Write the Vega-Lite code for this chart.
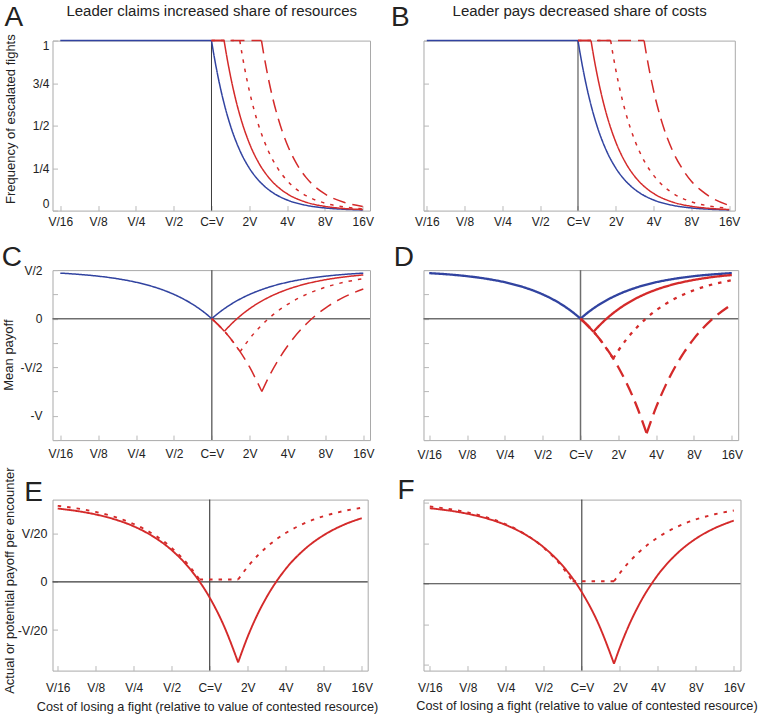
{
  "$schema": "https://vega.github.io/schema/vega-lite/v6.json",
  "padding": {"left": 0.5, "top": 2.6, "right": 0, "bottom": 0},
  "config": {
    "font": "Liberation Sans",
    "view": {"stroke": "#a9a9a9", "strokeWidth": 1},
    "axis": {"grid": false, "domain": false, "labelFont": "Liberation Sans", "titleFont": "Liberation Sans", "labelColor": "#222222", "titleColor": "#222222", "titleFontWeight": "normal", "tickColor": "#b8b8b8", "tickSize": -5, "labelFontSize": 12, "labelFlush": false, "labelOverlap": false, "labelBound": false}
  },
  "columns": 2,
  "spacing": {"row": 59.5, "column": 53},
  "bounds": "flush",
  "align": "each",
  "datasets": {
    "A": [
      {"s":"blue","g":"b1","c":0.0625,"y":1},{"s":"blue","g":"b1","c":1,"y":1},
      {"s":"blue","g":"b2","c":1,"y":1},{"s":"blue","g":"b2","c":1.0443,"y":0.917},{"s":"blue","g":"b2","c":1.0905,"y":0.8409},{"s":"blue","g":"b2","c":1.1892,"y":0.7071},{"s":"blue","g":"b2","c":1.2968,"y":0.5946},{"s":"blue","g":"b2","c":1.4142,"y":0.5},{"s":"blue","g":"b2","c":1.6818,"y":0.3536},{"s":"blue","g":"b2","c":2,"y":0.25},{"s":"blue","g":"b2","c":2.3784,"y":0.1768},{"s":"blue","g":"b2","c":2.8284,"y":0.125},{"s":"blue","g":"b2","c":3.3636,"y":0.0884},{"s":"blue","g":"b2","c":4,"y":0.0625},{"s":"blue","g":"b2","c":5.6569,"y":0.0313},{"s":"blue","g":"b2","c":8,"y":0.0156},{"s":"blue","g":"b2","c":11.3137,"y":0.0078},{"s":"blue","g":"b2","c":16,"y":0.0039},
      {"s":"solid","g":"s1","c":1,"y":1},{"s":"solid","g":"s1","c":1.26,"y":1},
      {"s":"solid","g":"s2","c":1.26,"y":1},{"s":"solid","g":"s2","c":1.3195,"y":0.912},{"s":"solid","g":"s2","c":1.4142,"y":0.794},{"s":"solid","g":"s2","c":1.5422,"y":0.6675},{"s":"solid","g":"s2","c":1.6818,"y":0.5613},{"s":"solid","g":"s2","c":2,"y":0.3969},{"s":"solid","g":"s2","c":2.3784,"y":0.2806},{"s":"solid","g":"s2","c":2.8284,"y":0.1985},{"s":"solid","g":"s2","c":3.3636,"y":0.1403},{"s":"solid","g":"s2","c":4,"y":0.0992},{"s":"solid","g":"s2","c":5.6569,"y":0.0496},{"s":"solid","g":"s2","c":8,"y":0.0248},{"s":"solid","g":"s2","c":11.3137,"y":0.0124},{"s":"solid","g":"s2","c":16,"y":0.0062},
      {"s":"dotted","g":"d1","c":1,"y":1},{"s":"dotted","g":"d1","c":1.68,"y":1},
      {"s":"dotted","g":"d2","c":1.68,"y":1},{"s":"dotted","g":"d2","c":1.7563,"y":0.915},{"s":"dotted","g":"d2","c":1.834,"y":0.8391},{"s":"dotted","g":"d2","c":2,"y":0.7056},{"s":"dotted","g":"d2","c":2.181,"y":0.5933},{"s":"dotted","g":"d2","c":2.3784,"y":0.4989},{"s":"dotted","g":"d2","c":2.8284,"y":0.3528},{"s":"dotted","g":"d2","c":3.3636,"y":0.2495},{"s":"dotted","g":"d2","c":4,"y":0.1764},{"s":"dotted","g":"d2","c":4.7568,"y":0.1247},{"s":"dotted","g":"d2","c":5.6569,"y":0.0882},{"s":"dotted","g":"d2","c":8,"y":0.0441},{"s":"dotted","g":"d2","c":11.3137,"y":0.0221},{"s":"dotted","g":"d2","c":16,"y":0.011},
      {"s":"dashed","g":"D1","c":1,"y":1},{"s":"dashed","g":"D1","c":2.5,"y":1},
      {"s":"dashed","g":"D2","c":2.5,"y":1},{"s":"dashed","g":"D2","c":2.5937,"y":0.9291},{"s":"dashed","g":"D2","c":2.8284,"y":0.7813},{"s":"dashed","g":"D2","c":3.0844,"y":0.657},{"s":"dashed","g":"D2","c":3.3636,"y":0.5524},{"s":"dashed","g":"D2","c":4,"y":0.3906},{"s":"dashed","g":"D2","c":4.7568,"y":0.2762},{"s":"dashed","g":"D2","c":5.6569,"y":0.1953},{"s":"dashed","g":"D2","c":6.7272,"y":0.1381},{"s":"dashed","g":"D2","c":8,"y":0.0977},{"s":"dashed","g":"D2","c":11.3137,"y":0.0488},{"s":"dashed","g":"D2","c":16,"y":0.0244}
    ],
    "B": [
      {"s":"blue","g":"b1","c":0.0625,"y":1},{"s":"blue","g":"b1","c":1,"y":1},
      {"s":"blue","g":"b2","c":1,"y":1},{"s":"blue","g":"b2","c":1.0443,"y":0.917},{"s":"blue","g":"b2","c":1.0905,"y":0.8409},{"s":"blue","g":"b2","c":1.1892,"y":0.7071},{"s":"blue","g":"b2","c":1.2968,"y":0.5946},{"s":"blue","g":"b2","c":1.4142,"y":0.5},{"s":"blue","g":"b2","c":1.6818,"y":0.3536},{"s":"blue","g":"b2","c":2,"y":0.25},{"s":"blue","g":"b2","c":2.3784,"y":0.1768},{"s":"blue","g":"b2","c":2.8284,"y":0.125},{"s":"blue","g":"b2","c":3.3636,"y":0.0884},{"s":"blue","g":"b2","c":4,"y":0.0625},{"s":"blue","g":"b2","c":5.6569,"y":0.0313},{"s":"blue","g":"b2","c":8,"y":0.0156},{"s":"blue","g":"b2","c":11.3137,"y":0.0078},{"s":"blue","g":"b2","c":16,"y":0.0039},
      {"s":"solid","g":"s1","c":1,"y":1},{"s":"solid","g":"s1","c":1.27,"y":1},
      {"s":"solid","g":"s2","c":1.27,"y":1},{"s":"solid","g":"s2","c":1.3195,"y":0.9264},{"s":"solid","g":"s2","c":1.4142,"y":0.8065},{"s":"solid","g":"s2","c":1.5422,"y":0.6782},{"s":"solid","g":"s2","c":1.6818,"y":0.5703},{"s":"solid","g":"s2","c":2,"y":0.4032},{"s":"solid","g":"s2","c":2.3784,"y":0.2851},{"s":"solid","g":"s2","c":2.8284,"y":0.2016},{"s":"solid","g":"s2","c":3.3636,"y":0.1426},{"s":"solid","g":"s2","c":4,"y":0.1008},{"s":"solid","g":"s2","c":5.6569,"y":0.0504},{"s":"solid","g":"s2","c":8,"y":0.0252},{"s":"solid","g":"s2","c":11.3137,"y":0.0126},{"s":"solid","g":"s2","c":16,"y":0.0063},
      {"s":"dotted","g":"d1","c":1,"y":1},{"s":"dotted","g":"d1","c":1.82,"y":1},
      {"s":"dotted","g":"d2","c":1.82,"y":1},{"s":"dotted","g":"d2","c":1.9152,"y":0.9031},{"s":"dotted","g":"d2","c":2,"y":0.8281},{"s":"dotted","g":"d2","c":2.181,"y":0.6963},{"s":"dotted","g":"d2","c":2.3784,"y":0.5856},{"s":"dotted","g":"d2","c":2.5937,"y":0.4924},{"s":"dotted","g":"d2","c":2.8284,"y":0.4141},{"s":"dotted","g":"d2","c":3.3636,"y":0.2928},{"s":"dotted","g":"d2","c":4,"y":0.207},{"s":"dotted","g":"d2","c":4.7568,"y":0.1464},{"s":"dotted","g":"d2","c":5.6569,"y":0.1035},{"s":"dotted","g":"d2","c":8,"y":0.0518},{"s":"dotted","g":"d2","c":11.3137,"y":0.0259},{"s":"dotted","g":"d2","c":16,"y":0.0129},
      {"s":"dashed","g":"D1","c":1,"y":1},{"s":"dashed","g":"D1","c":3.36,"y":1},
      {"s":"dashed","g":"D2","c":3.36,"y":1},{"s":"dashed","g":"D2","c":3.5124,"y":0.915},{"s":"dashed","g":"D2","c":3.668,"y":0.8391},{"s":"dashed","g":"D2","c":4,"y":0.7056},{"s":"dashed","g":"D2","c":4.362,"y":0.5933},{"s":"dashed","g":"D2","c":4.7568,"y":0.4989},{"s":"dashed","g":"D2","c":5.6569,"y":0.3528},{"s":"dashed","g":"D2","c":6.7272,"y":0.2495},{"s":"dashed","g":"D2","c":8,"y":0.172},{"s":"dashed","g":"D2","c":9.5137,"y":0.12},{"s":"dashed","g":"D2","c":11.3137,"y":0.08},{"s":"dashed","g":"D2","c":16,"y":0.03}
    ],
    "C": [
      {"s":"blue","g":"b1","c":0.0625,"y":0.4688},{"s":"blue","g":"b1","c":0.0884,"y":0.4558},{"s":"blue","g":"b1","c":0.125,"y":0.4375},{"s":"blue","g":"b1","c":0.1768,"y":0.4116},{"s":"blue","g":"b1","c":0.25,"y":0.375},{"s":"blue","g":"b1","c":0.3536,"y":0.3232},{"s":"blue","g":"b1","c":0.5,"y":0.25},{"s":"blue","g":"b1","c":0.5946,"y":0.2027},{"s":"blue","g":"b1","c":0.7071,"y":0.1464},{"s":"blue","g":"b1","c":0.8409,"y":0.0796},{"s":"blue","g":"b1","c":0.917,"y":0.0415},{"s":"blue","g":"b1","c":1,"y":0},
      {"s":"blue","g":"b2","c":1,"y":0},{"s":"blue","g":"b2","c":1.0905,"y":0.0415},{"s":"blue","g":"b2","c":1.1892,"y":0.0796},{"s":"blue","g":"b2","c":1.4142,"y":0.1464},{"s":"blue","g":"b2","c":1.6818,"y":0.2027},{"s":"blue","g":"b2","c":2,"y":0.25},{"s":"blue","g":"b2","c":2.8284,"y":0.3232},{"s":"blue","g":"b2","c":4,"y":0.375},{"s":"blue","g":"b2","c":5.6569,"y":0.4116},{"s":"blue","g":"b2","c":8,"y":0.4375},{"s":"blue","g":"b2","c":11.3137,"y":0.4558},{"s":"blue","g":"b2","c":16,"y":0.4688},
      {"s":"solid","g":"s1","c":1,"y":0},{"s":"solid","g":"s1","c":1.1225,"y":-0.0612},{"s":"solid","g":"s1","c":1.26,"y":-0.13},
      {"s":"solid","g":"s2","c":1.26,"y":-0.13},{"s":"solid","g":"s2","c":1.4142,"y":-0.0613},{"s":"solid","g":"s2","c":1.6818,"y":0.028},{"s":"solid","g":"s2","c":2,"y":0.1031},{"s":"solid","g":"s2","c":2.8284,"y":0.2194},{"s":"solid","g":"s2","c":4,"y":0.3016},{"s":"solid","g":"s2","c":5.6569,"y":0.3597},{"s":"solid","g":"s2","c":8,"y":0.4008},{"s":"solid","g":"s2","c":11.3137,"y":0.4298},{"s":"solid","g":"s2","c":16,"y":0.4504},
      {"s":"dotted","g":"d1","c":1,"y":0},{"s":"dotted","g":"d1","c":1.2961,"y":-0.148},{"s":"dotted","g":"d1","c":1.68,"y":-0.34},
      {"s":"dotted","g":"d2","c":1.68,"y":-0.34},{"s":"dotted","g":"d2","c":1.834,"y":-0.2695},{"s":"dotted","g":"d2","c":2,"y":-0.2056},{"s":"dotted","g":"d2","c":2.3784,"y":-0.0933},{"s":"dotted","g":"d2","c":2.8284,"y":0.0011},{"s":"dotted","g":"d2","c":3.3636,"y":0.0805},{"s":"dotted","g":"d2","c":4,"y":0.1472},{"s":"dotted","g":"d2","c":5.6569,"y":0.2505},{"s":"dotted","g":"d2","c":8,"y":0.3236},{"s":"dotted","g":"d2","c":11.3137,"y":0.3753},{"s":"dotted","g":"d2","c":16,"y":0.4118},
      {"s":"dashed","g":"D1","c":1,"y":0},{"s":"dashed","g":"D1","c":1.4142,"y":-0.2071},{"s":"dashed","g":"D1","c":2,"y":-0.5},{"s":"dashed","g":"D1","c":2.5,"y":-0.75},
      {"s":"dashed","g":"D2","c":2.5,"y":-0.75},{"s":"dashed","g":"D2","c":2.8284,"y":-0.6049},{"s":"dashed","g":"D2","c":3.3636,"y":-0.4291},{"s":"dashed","g":"D2","c":4,"y":-0.2813},{"s":"dashed","g":"D2","c":5.6569,"y":-0.0524},{"s":"dashed","g":"D2","c":8,"y":0.1094},{"s":"dashed","g":"D2","c":11.3137,"y":0.2238},{"s":"dashed","g":"D2","c":16,"y":0.3047}
    ],
    "D": [
      {"s":"blue","g":"b1","c":0.0625,"y":0.4688},{"s":"blue","g":"b1","c":0.0884,"y":0.4558},{"s":"blue","g":"b1","c":0.125,"y":0.4375},{"s":"blue","g":"b1","c":0.1768,"y":0.4116},{"s":"blue","g":"b1","c":0.25,"y":0.375},{"s":"blue","g":"b1","c":0.3536,"y":0.3232},{"s":"blue","g":"b1","c":0.5,"y":0.25},{"s":"blue","g":"b1","c":0.5946,"y":0.2027},{"s":"blue","g":"b1","c":0.7071,"y":0.1464},{"s":"blue","g":"b1","c":0.8409,"y":0.0796},{"s":"blue","g":"b1","c":0.917,"y":0.0415},{"s":"blue","g":"b1","c":1,"y":0},
      {"s":"blue","g":"b2","c":1,"y":0},{"s":"blue","g":"b2","c":1.0905,"y":0.0415},{"s":"blue","g":"b2","c":1.1892,"y":0.0796},{"s":"blue","g":"b2","c":1.4142,"y":0.1464},{"s":"blue","g":"b2","c":1.6818,"y":0.2027},{"s":"blue","g":"b2","c":2,"y":0.25},{"s":"blue","g":"b2","c":2.8284,"y":0.3232},{"s":"blue","g":"b2","c":4,"y":0.375},{"s":"blue","g":"b2","c":5.6569,"y":0.4116},{"s":"blue","g":"b2","c":8,"y":0.4375},{"s":"blue","g":"b2","c":11.3137,"y":0.4558},{"s":"blue","g":"b2","c":16,"y":0.4688},
      {"s":"solid","g":"s1","c":1,"y":0},{"s":"solid","g":"s1","c":1.127,"y":-0.0635},{"s":"solid","g":"s1","c":1.27,"y":-0.135},
      {"s":"solid","g":"s2","c":1.27,"y":-0.135},{"s":"solid","g":"s2","c":1.4142,"y":-0.0703},{"s":"solid","g":"s2","c":1.6818,"y":0.0205},{"s":"solid","g":"s2","c":2,"y":0.0968},{"s":"solid","g":"s2","c":2.8284,"y":0.2149},{"s":"solid","g":"s2","c":4,"y":0.2984},{"s":"solid","g":"s2","c":5.6569,"y":0.3574},{"s":"solid","g":"s2","c":8,"y":0.3992},{"s":"solid","g":"s2","c":11.3137,"y":0.4287},{"s":"solid","g":"s2","c":16,"y":0.4496},
      {"s":"dotted","g":"d1","c":1,"y":0},{"s":"dotted","g":"d1","c":1.3491,"y":-0.1746},{"s":"dotted","g":"d1","c":1.82,"y":-0.41},
      {"s":"dotted","g":"d2","c":1.82,"y":-0.41},{"s":"dotted","g":"d2","c":2,"y":-0.3281},{"s":"dotted","g":"d2","c":2.3784,"y":-0.1963},{"s":"dotted","g":"d2","c":2.8284,"y":-0.0856},{"s":"dotted","g":"d2","c":3.3636,"y":0.0076},{"s":"dotted","g":"d2","c":4,"y":0.0859},{"s":"dotted","g":"d2","c":5.6569,"y":0.2072},{"s":"dotted","g":"d2","c":8,"y":0.293},{"s":"dotted","g":"d2","c":11.3137,"y":0.3536},{"s":"dotted","g":"d2","c":16,"y":0.3965},
      {"s":"dashed","g":"D1","c":1,"y":0},{"s":"dashed","g":"D1","c":1.4142,"y":-0.2071},{"s":"dashed","g":"D1","c":2,"y":-0.5},{"s":"dashed","g":"D1","c":2.8284,"y":-0.9142},{"s":"dashed","g":"D1","c":3.36,"y":-1.18},
      {"s":"dashed","g":"D2","c":3.36,"y":-1.18},{"s":"dashed","g":"D2","c":4,"y":-0.9112},{"s":"dashed","g":"D2","c":4.7568,"y":-0.6867},{"s":"dashed","g":"D2","c":5.6569,"y":-0.4979},{"s":"dashed","g":"D2","c":6.7272,"y":-0.3391},{"s":"dashed","g":"D2","c":8,"y":-0.2056},{"s":"dashed","g":"D2","c":11.3137,"y":0.0011},{"s":"dashed","g":"D2","c":16,"y":0.1472}
    ],
    "E": [
      {"s":"solid","g":"s1","c":0.0625,"y":0.076},{"s":"solid","g":"s1","c":0.0884,"y":0.0735},{"s":"solid","g":"s1","c":0.125,"y":0.0699},{"s":"solid","g":"s1","c":0.1768,"y":0.0648},{"s":"solid","g":"s1","c":0.25,"y":0.0576},{"s":"solid","g":"s1","c":0.3536,"y":0.0473},{"s":"solid","g":"s1","c":0.5,"y":0.0329},{"s":"solid","g":"s1","c":0.7071,"y":0.0125},{"s":"solid","g":"s1","c":1,"y":-0.0164},{"s":"solid","g":"s1","c":1.2968,"y":-0.0457},{"s":"solid","g":"s1","c":1.68,"y":-0.0835},
      {"s":"solid","g":"s2","c":1.68,"y":-0.0835},{"s":"solid","g":"s2","c":2,"y":-0.0568},{"s":"solid","g":"s2","c":2.3784,"y":-0.0344},{"s":"solid","g":"s2","c":2.8284,"y":-0.0157},{"s":"solid","g":"s2","c":4,"y":0.0134},{"s":"solid","g":"s2","c":5.6569,"y":0.0339},{"s":"solid","g":"s2","c":8,"y":0.0484},{"s":"solid","g":"s2","c":11.3137,"y":0.0587},{"s":"solid","g":"s2","c":16,"y":0.066},
      {"s":"dotted","g":"d1","c":0.0625,"y":0.0788},{"s":"dotted","g":"d1","c":0.0884,"y":0.0762},{"s":"dotted","g":"d1","c":0.125,"y":0.0725},{"s":"dotted","g":"d1","c":0.1768,"y":0.0673},{"s":"dotted","g":"d1","c":0.25,"y":0.06},{"s":"dotted","g":"d1","c":0.3536,"y":0.0497},{"s":"dotted","g":"d1","c":0.5,"y":0.0352},{"s":"dotted","g":"d1","c":0.7071,"y":0.0146},{"s":"dotted","g":"d1","c":0.831,"y":0.0024},
      {"s":"dotted","g":"d2","c":0.831,"y":0.0024},{"s":"dotted","g":"d2","c":1.68,"y":0.0024},
      {"s":"dotted","g":"d3","c":1.68,"y":0.0024},{"s":"dotted","g":"d3","c":2,"y":0.0157},{"s":"dotted","g":"d3","c":2.3784,"y":0.0268},{"s":"dotted","g":"d3","c":2.8284,"y":0.0361},{"s":"dotted","g":"d3","c":4,"y":0.0506},{"s":"dotted","g":"d3","c":5.6569,"y":0.0608},{"s":"dotted","g":"d3","c":8,"y":0.0681},{"s":"dotted","g":"d3","c":11.3137,"y":0.0732},{"s":"dotted","g":"d3","c":16,"y":0.0768}
    ],
    "F": [
      {"s":"solid","g":"s1","c":0.0625,"y":0.0933},{"s":"solid","g":"s1","c":0.0884,"y":0.0905},{"s":"solid","g":"s1","c":0.125,"y":0.0864},{"s":"solid","g":"s1","c":0.1768,"y":0.0807},{"s":"solid","g":"s1","c":0.25,"y":0.0726},{"s":"solid","g":"s1","c":0.3536,"y":0.0611},{"s":"solid","g":"s1","c":0.5,"y":0.0449},{"s":"solid","g":"s1","c":0.7071,"y":0.022},{"s":"solid","g":"s1","c":1,"y":-0.0105},{"s":"solid","g":"s1","c":1.3416,"y":-0.0482},{"s":"solid","g":"s1","c":1.8,"y":-0.099},
      {"s":"solid","g":"s2","c":1.8,"y":-0.099},{"s":"solid","g":"s2","c":2,"y":-0.0791},{"s":"solid","g":"s2","c":2.3784,"y":-0.0505},{"s":"solid","g":"s2","c":2.8284,"y":-0.0265},{"s":"solid","g":"s2","c":4,"y":0.0107},{"s":"solid","g":"s2","c":5.6569,"y":0.037},{"s":"solid","g":"s2","c":8,"y":0.0556},{"s":"solid","g":"s2","c":11.3137,"y":0.0687},{"s":"solid","g":"s2","c":16,"y":0.078},
      {"s":"dotted","g":"d1","c":0.0625,"y":0.0955},{"s":"dotted","g":"d1","c":0.0884,"y":0.0924},{"s":"dotted","g":"d1","c":0.125,"y":0.0881},{"s":"dotted","g":"d1","c":0.1768,"y":0.082},{"s":"dotted","g":"d1","c":0.25,"y":0.0735},{"s":"dotted","g":"d1","c":0.3536,"y":0.0615},{"s":"dotted","g":"d1","c":0.5,"y":0.0445},{"s":"dotted","g":"d1","c":0.7071,"y":0.0197},{"s":"dotted","g":"d1","c":0.845,"y":0.003},
      {"s":"dotted","g":"d2","c":0.845,"y":0.003},{"s":"dotted","g":"d2","c":1.8,"y":0.003},
      {"s":"dotted","g":"d3","c":1.8,"y":0.003},{"s":"dotted","g":"d3","c":2,"y":0.0129},{"s":"dotted","g":"d3","c":2.3784,"y":0.027},{"s":"dotted","g":"d3","c":2.8284,"y":0.0388},{"s":"dotted","g":"d3","c":4,"y":0.0572},{"s":"dotted","g":"d3","c":5.6569,"y":0.0702},{"s":"dotted","g":"d3","c":8,"y":0.0794},{"s":"dotted","g":"d3","c":11.3137,"y":0.0859},{"s":"dotted","g":"d3","c":16,"y":0.0905}
    ]
  },
  "concat": [
    {
      "width": 317.5, "height": 170,
      "layer": [
        {"data": {"values": [{}]}, "mark": {"type": "rule", "color": "#3c3c3c", "strokeWidth": 1},
         "encoding": {"x": {"datum": 1, "type": "quantitative", "scale": {"type": "log", "base": 2, "domain": [0.05418, 18.29], "nice": false}, "axis": null}}},
        {"data": {"name": "A"}, "mark": {"type": "line", "interpolate": "monotone", "strokeWidth": 1.5},
         "encoding": {
           "x": {"field": "c", "type": "quantitative", "scale": {"type": "log", "base": 2, "domain": [0.05418, 18.29], "nice": false},
             "axis": {"values": [0.0625,0.125,0.25,0.5,1,2,4,8,16], "labelExpr": "datum.value < 0.1 ? 'V/16' : datum.value < 0.2 ? 'V/8' : datum.value < 0.3 ? 'V/4' : datum.value < 0.6 ? 'V/2' : datum.value < 1.5 ? 'C=V' : datum.value < 3 ? '2V' : datum.value < 6 ? '4V' : datum.value < 12 ? '8V' : '16V'", "labelBaseline": "alphabetic", "labelPadding": 20, "title": null}},
           "y": {"field": "y", "type": "quantitative", "scale": {"domain": [0, 1], "nice": false, "zero": false},
             "axis": {"values": [0,0.25,0.5,0.75,1], "labelExpr": "datum.value == 0 ? '0' : datum.value == 0.25 ? '1/4' : datum.value == 0.5 ? '1/2' : datum.value == 0.75 ? '3/4' : '1'", "labelPadding": 8.5, "labelFlush": true, "title": "Frequency of escalated fights", "titleFontSize": 13, "titleX": -38, "titleY": 78, "titleBaseline": "alphabetic", "titleAlign": "center"}},
           "color": {"field": "s", "type": "nominal", "scale": {"domain": ["dashed","dotted","solid","blue"], "range": ["#d42a2a","#d42a2a","#d42a2a","#3143a0"]}, "legend": null},
           "strokeDash": {"field": "s", "type": "nominal", "scale": {"domain": ["dashed","dotted","solid","blue"], "range": [[13,7],[3.5,6],[1,0],[1,0]]}, "legend": null},
           "detail": {"field": "g", "type": "nominal"}}},
        {"data": {"values": [{}]}, "mark": {"type": "point", "opacity": 0},
         "encoding": {
           "x": {"datum": 1, "type": "quantitative", "scale": {"type": "log", "base": 2, "domain": [0.05418, 18.29], "nice": false},
             "axis": {"orient": "top", "labels": false, "ticks": false, "title": "Leader claims increased share of resources", "titleFontSize": 15, "titleY": -25, "titleBaseline": "alphabetic"}},
           "y": {"datum": 0.5, "type": "quantitative", "scale": {"domain": [0, 1], "nice": false, "zero": false},
             "axis": {"orient": "right", "labels": false, "ticks": false, "title": "A", "titleFontSize": 28, "titleAngle": 0, "titleAlign": "left", "titleBaseline": "alphabetic", "titleX": -366, "titleY": -15}}}}
      ],
      "resolve": {"axis": {"x": "independent", "y": "independent"}}
    },
    {
      "width": 311.3, "height": 170,
      "layer": [
        {"data": {"values": [{}]}, "mark": {"type": "rule", "color": "#3c3c3c", "strokeWidth": 1},
         "encoding": {"x": {"datum": 1, "type": "quantitative", "scale": {"type": "log", "base": 2, "domain": [0.05884, 17.73], "nice": false}, "axis": null}}},
        {"data": {"name": "B"}, "mark": {"type": "line", "interpolate": "monotone", "strokeWidth": 1.5},
         "encoding": {
           "x": {"field": "c", "type": "quantitative", "scale": {"type": "log", "base": 2, "domain": [0.05884, 17.73], "nice": false},
             "axis": {"values": [0.0625,0.125,0.25,0.5,1,2,4,8,16], "labelExpr": "datum.value < 0.1 ? 'V/16' : datum.value < 0.2 ? 'V/8' : datum.value < 0.3 ? 'V/4' : datum.value < 0.6 ? 'V/2' : datum.value < 1.5 ? 'C=V' : datum.value < 3 ? '2V' : datum.value < 6 ? '4V' : datum.value < 12 ? '8V' : '16V'", "labelBaseline": "alphabetic", "labelPadding": 20, "title": null}},
           "y": {"field": "y", "type": "quantitative", "scale": {"domain": [0, 1], "nice": false, "zero": false},
             "axis": {"values": [0,0.25,0.5,0.75,1], "labels": false, "title": null}},
           "color": {"field": "s", "type": "nominal", "scale": {"domain": ["dashed","dotted","solid","blue"], "range": ["#d42a2a","#d42a2a","#d42a2a","#3143a0"]}, "legend": null},
           "strokeDash": {"field": "s", "type": "nominal", "scale": {"domain": ["dashed","dotted","solid","blue"], "range": [[13,7],[3.5,6],[1,0],[1,0]]}, "legend": null},
           "detail": {"field": "g", "type": "nominal"}}},
        {"data": {"values": [{}]}, "mark": {"type": "point", "opacity": 0},
         "encoding": {
           "x": {"datum": 1, "type": "quantitative", "scale": {"type": "log", "base": 2, "domain": [0.05884, 17.73], "nice": false},
             "axis": {"orient": "top", "labels": false, "ticks": false, "title": "Leader pays decreased share of costs", "titleFontSize": 15, "titleY": -25, "titleBaseline": "alphabetic"}},
           "y": {"datum": 0.5, "type": "quantitative", "scale": {"domain": [0, 1], "nice": false, "zero": false},
             "axis": {"orient": "right", "labels": false, "ticks": false, "title": "B", "titleFontSize": 28, "titleAngle": 0, "titleAlign": "left", "titleBaseline": "alphabetic", "titleX": -344.3, "titleY": -15}}}}
      ],
      "resolve": {"axis": {"x": "independent", "y": "independent"}}
    },
    {
      "width": 317.5, "height": 170,
      "layer": [
        {"data": {"values": [{}]}, "mark": {"type": "rule", "color": "#6e6e6e", "strokeWidth": 1.5},
         "encoding": {"x": {"datum": 1, "type": "quantitative", "scale": {"type": "log", "base": 2, "domain": [0.05418, 18.09], "nice": false}, "axis": null}}},
        {"data": {"values": [{}]}, "mark": {"type": "rule", "color": "#6e6e6e", "strokeWidth": 1.5},
         "encoding": {"y": {"datum": 0, "type": "quantitative", "scale": {"domain": [-1.25, 0.5], "nice": false, "zero": false}, "axis": null}}},
        {"data": {"name": "C"}, "mark": {"type": "line", "interpolate": "monotone", "strokeWidth": 1.5},
         "encoding": {
           "x": {"field": "c", "type": "quantitative", "scale": {"type": "log", "base": 2, "domain": [0.05418, 18.09], "nice": false},
             "axis": {"values": [0.0625,0.125,0.25,0.5,1,2,4,8,16], "labelExpr": "datum.value < 0.1 ? 'V/16' : datum.value < 0.2 ? 'V/8' : datum.value < 0.3 ? 'V/4' : datum.value < 0.6 ? 'V/2' : datum.value < 1.5 ? 'C=V' : datum.value < 3 ? '2V' : datum.value < 6 ? '4V' : datum.value < 12 ? '8V' : '16V'", "labelBaseline": "alphabetic", "labelPadding": 22, "title": null}},
           "y": {"field": "y", "type": "quantitative", "scale": {"domain": [-1.25, 0.5], "nice": false, "zero": false},
             "axis": {"values": [-1.25,-1,-0.75,-0.5,-0.25,0,0.25,0.5], "labelExpr": "datum.value == 0.5 ? 'V/2' : datum.value == 0 ? '0\u00a0\u00a0\u00a0' : datum.value == -0.5 ? '-V/2' : datum.value == -1 ? '-V' : ''", "labelPadding": 15.5, "title": "Mean payoff", "titleFontSize": 13, "titleX": -40.2, "titleY": 84.5, "titleBaseline": "alphabetic", "titleAlign": "center"}},
           "color": {"field": "s", "type": "nominal", "scale": {"domain": ["dashed","dotted","solid","blue"], "range": ["#d42a2a","#d42a2a","#d42a2a","#3143a0"]}, "legend": null},
           "strokeDash": {"field": "s", "type": "nominal", "scale": {"domain": ["dashed","dotted","solid","blue"], "range": [[14,8],[4,7],[1,0],[1,0]]}, "legend": null},
           "detail": {"field": "g", "type": "nominal"}}},
        {"data": {"values": [{}]}, "mark": {"type": "point", "opacity": 0},
         "encoding": {
           "x": {"datum": 1, "type": "quantitative", "scale": {"type": "log", "base": 2, "domain": [0.05418, 18.09], "nice": false}, "axis": null},
           "y": {"datum": 0, "type": "quantitative", "scale": {"domain": [-1.25, 0.5], "nice": false, "zero": false},
             "axis": {"orient": "right", "labels": false, "ticks": false, "title": "C", "titleFontSize": 28, "titleAngle": 0, "titleAlign": "left", "titleBaseline": "alphabetic", "titleX": -368.7, "titleY": -4.5}}}}
      ],
      "resolve": {"axis": {"x": "independent", "y": "independent"}}
    },
    {
      "width": 314.7, "height": 170,
      "layer": [
        {"data": {"values": [{}]}, "mark": {"type": "rule", "color": "#6e6e6e", "strokeWidth": 1.5},
         "encoding": {"x": {"datum": 1, "type": "quantitative", "scale": {"type": "log", "base": 2, "domain": [0.05629, 17.99], "nice": false}, "axis": null}}},
        {"data": {"values": [{}]}, "mark": {"type": "rule", "color": "#6e6e6e", "strokeWidth": 1.5},
         "encoding": {"y": {"datum": 0, "type": "quantitative", "scale": {"domain": [-1.25, 0.5], "nice": false, "zero": false}, "axis": null}}},
        {"data": {"name": "D"}, "mark": {"type": "line", "interpolate": "monotone", "strokeWidth": 2.3},
         "encoding": {
           "x": {"field": "c", "type": "quantitative", "scale": {"type": "log", "base": 2, "domain": [0.05629, 17.99], "nice": false},
             "axis": {"values": [0.0625,0.125,0.25,0.5,1,2,4,8,16], "labelExpr": "datum.value < 0.1 ? 'V/16' : datum.value < 0.2 ? 'V/8' : datum.value < 0.3 ? 'V/4' : datum.value < 0.6 ? 'V/2' : datum.value < 1.5 ? 'C=V' : datum.value < 3 ? '2V' : datum.value < 6 ? '4V' : datum.value < 12 ? '8V' : '16V'", "labelBaseline": "alphabetic", "labelPadding": 23, "title": null}},
           "y": {"field": "y", "type": "quantitative", "scale": {"domain": [-1.25, 0.5], "nice": false, "zero": false},
             "axis": {"values": [-1.25,-1,-0.75,-0.5,-0.25,0,0.25,0.5], "labels": false, "title": null}},
           "color": {"field": "s", "type": "nominal", "scale": {"domain": ["dashed","dotted","solid","blue"], "range": ["#d42a2a","#d42a2a","#d42a2a","#3143a0"]}, "legend": null},
           "strokeDash": {"field": "s", "type": "nominal", "scale": {"domain": ["dashed","dotted","solid","blue"], "range": [[13,7],[4,6],[1,0],[1,0]]}, "legend": null},
           "detail": {"field": "g", "type": "nominal"}}},
        {"data": {"values": [{}]}, "mark": {"type": "point", "opacity": 0},
         "encoding": {
           "x": {"datum": 1, "type": "quantitative", "scale": {"type": "log", "base": 2, "domain": [0.05629, 17.99], "nice": false}, "axis": null},
           "y": {"datum": 0, "type": "quantitative", "scale": {"domain": [-1.25, 0.5], "nice": false, "zero": false},
             "axis": {"orient": "right", "labels": false, "ticks": false, "title": "D", "titleFontSize": 28, "titleAngle": 0, "titleAlign": "left", "titleBaseline": "alphabetic", "titleX": -344.9, "titleY": -4.5}}}}
      ],
      "resolve": {"axis": {"x": "independent", "y": "independent"}}
    },
    {
      "width": 315.2, "height": 171,
      "layer": [
        {"data": {"values": [{}]}, "mark": {"type": "rule", "color": "#3a3a3a", "strokeWidth": 1.1},
         "encoding": {"x": {"datum": 1, "type": "quantitative", "scale": {"type": "log", "base": 2, "domain": [0.05684, 17.85], "nice": false}, "axis": null}}},
        {"data": {"values": [{}]}, "mark": {"type": "rule", "color": "#3a3a3a", "strokeWidth": 1.1},
         "encoding": {"y": {"datum": 0, "type": "quantitative", "scale": {"domain": [-0.092, 0.0853], "nice": false, "zero": false}, "axis": null}}},
        {"data": {"name": "E"}, "mark": {"type": "line", "interpolate": "monotone", "strokeWidth": 1.9},
         "encoding": {
           "x": {"field": "c", "type": "quantitative", "scale": {"type": "log", "base": 2, "domain": [0.05684, 17.85], "nice": false},
             "axis": {"values": [0.0625,0.125,0.25,0.5,1,2,4,8,16], "labelExpr": "datum.value < 0.1 ? 'V/16' : datum.value < 0.2 ? 'V/8' : datum.value < 0.3 ? 'V/4' : datum.value < 0.6 ? 'V/2' : datum.value < 1.5 ? 'C=V' : datum.value < 3 ? '2V' : datum.value < 6 ? '4V' : datum.value < 12 ? '8V' : '16V'", "labelBaseline": "alphabetic", "labelPadding": 26, "title": "Cost of losing a fight (relative to value of contested resource)", "titleFontSize": 12.7, "titleX": 154.5, "titleY": 40, "titleBaseline": "alphabetic"}},
           "y": {"field": "y", "type": "quantitative", "scale": {"domain": [-0.092, 0.0853], "nice": false, "zero": false},
             "axis": {"values": [-0.05, 0, 0.05], "labelExpr": "datum.value > 0.01 ? 'V/20' : datum.value < -0.01 ? '-V/20' : '0'", "labelPadding": 10.5, "labelFontSize": 12.5, "title": "Actual or potential payoff per encounter", "titleFontSize": 13, "titleX": -39.5, "titleY": 80.5, "titleBaseline": "alphabetic", "titleAlign": "center"}},
           "color": {"field": "s", "type": "nominal", "scale": {"domain": ["solid","dotted"], "range": ["#d42a2a","#d42a2a"]}, "legend": null},
           "strokeDash": {"field": "s", "type": "nominal", "scale": {"domain": ["solid","dotted"], "range": [[1,0],[4,6]]}, "legend": null},
           "detail": {"field": "g", "type": "nominal"}}},
        {"data": {"values": [{}]}, "mark": {"type": "point", "opacity": 0},
         "encoding": {
           "x": {"datum": 1, "type": "quantitative", "scale": {"type": "log", "base": 2, "domain": [0.05684, 17.85], "nice": false}, "axis": null},
           "y": {"datum": 0, "type": "quantitative", "scale": {"domain": [-0.092, 0.0853], "nice": false, "zero": false},
             "axis": {"orient": "right", "labels": false, "ticks": false, "title": "E", "titleFontSize": 28, "titleAngle": 0, "titleAlign": "left", "titleBaseline": "alphabetic", "titleX": -343.9, "titleY": 1}}}}
      ],
      "resolve": {"axis": {"x": "independent", "y": "independent"}}
    },
    {
      "width": 317, "height": 171,
      "layer": [
        {"data": {"values": [{}]}, "mark": {"type": "rule", "color": "#3a3a3a", "strokeWidth": 1.1},
         "encoding": {"x": {"datum": 1, "type": "quantitative", "scale": {"type": "log", "base": 2, "domain": [0.05571, 18.08], "nice": false}, "axis": null}}},
        {"data": {"values": [{}]}, "mark": {"type": "rule", "color": "#3a3a3a", "strokeWidth": 1.1},
         "encoding": {"y": {"datum": 0, "type": "quantitative", "scale": {"domain": [-0.1075, 0.104], "nice": false, "zero": false}, "axis": null}}},
        {"data": {"name": "F"}, "mark": {"type": "line", "interpolate": "monotone", "strokeWidth": 1.9},
         "encoding": {
           "x": {"field": "c", "type": "quantitative", "scale": {"type": "log", "base": 2, "domain": [0.05571, 18.08], "nice": false},
             "axis": {"values": [0.0625,0.125,0.25,0.5,1,2,4,8,16], "labelExpr": "datum.value < 0.1 ? 'V/16' : datum.value < 0.2 ? 'V/8' : datum.value < 0.3 ? 'V/4' : datum.value < 0.6 ? 'V/2' : datum.value < 1.5 ? 'C=V' : datum.value < 3 ? '2V' : datum.value < 6 ? '4V' : datum.value < 12 ? '8V' : '16V'", "labelBaseline": "alphabetic", "labelPadding": 26, "title": "Cost of losing a fight (relative to value of contested resource)", "titleFontSize": 12.7, "titleX": 163, "titleY": 39, "titleBaseline": "alphabetic"}},
           "y": {"field": "y", "type": "quantitative", "scale": {"domain": [-0.1075, 0.104], "nice": false, "zero": false},
             "axis": {"values": [-0.1, -0.05, 0, 0.05, 0.1], "labels": false, "title": null}},
           "color": {"field": "s", "type": "nominal", "scale": {"domain": ["solid","dotted"], "range": ["#d42a2a","#d42a2a"]}, "legend": null},
           "strokeDash": {"field": "s", "type": "nominal", "scale": {"domain": ["solid","dotted"], "range": [[1,0],[4,6]]}, "legend": null},
           "detail": {"field": "g", "type": "nominal"}}},
        {"data": {"values": [{}]}, "mark": {"type": "point", "opacity": 0},
         "encoding": {
           "x": {"datum": 1, "type": "quantitative", "scale": {"type": "log", "base": 2, "domain": [0.05571, 18.08], "nice": false}, "axis": null},
           "y": {"datum": 0, "type": "quantitative", "scale": {"domain": [-0.1075, 0.104], "nice": false, "zero": false},
             "axis": {"orient": "right", "labels": false, "ticks": false, "title": "F", "titleFontSize": 28, "titleAngle": 0, "titleAlign": "left", "titleBaseline": "alphabetic", "titleX": -343.5, "titleY": -1}}}}
      ],
      "resolve": {"axis": {"x": "independent", "y": "independent"}}
    }
  ]
}
